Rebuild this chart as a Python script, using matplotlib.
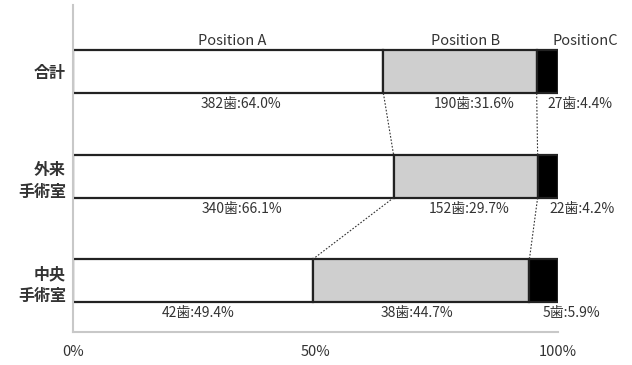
import numpy as np
import matplotlib
matplotlib.use("Agg")
import matplotlib.pyplot as plt

plt.rcParams["font.family"] = ["Noto Sans CJK JP", "DejaVu Sans"]

# Data
groups = ["合計", "外来\n手術室", "中央\n手術室"]
positions = ["Position A", "Position B", "PositionC"]
counts_a = [382, 340, 42]
counts_b = [190, 152, 38]
counts_c = [27, 22, 5]
pct_a = [64.0, 66.1, 49.4]
pct_b = [31.6, 29.7, 44.7]
pct_c = [4.4, 4.2, 5.9]

# where the value labels sit along each bar (percent)
label_x = [
    [34.6, 82.7, 104.5],
    [34.9, 81.6, 105.0],
    [25.8, 71.0, 102.7],
]
header_x = [32.8, 81.0, 105.6]

fig = plt.figure(figsize=(6.32, 3.65), dpi=100)
ax = fig.add_axes([73 / 632, 33 / 365, 485 / 632, 327 / 365])

y = np.arange(len(groups))
h = 0.41

a = np.array(pct_a)
b = np.array(pct_b)
c = 100 - a - b  # C fills the rest of each bar

ax.barh(y, a, height=h, color="white", edgecolor="#222222", linewidth=1.6)
ax.barh(y, b, left=a, height=h, color="#cfcfcf", edgecolor="#222222", linewidth=1.6)
ax.barh(y, c, left=a + b, height=h, color="black", edgecolor="#222222", linewidth=1.6)

# dotted lines joining the segment boundaries of neighbouring bars
bounds = np.column_stack([a, a + b])
for i in range(len(groups) - 1):
    for j in range(2):
        ax.plot([bounds[i, j], bounds[i + 1, j]], [y[i] + h / 2, y[i + 1] - h / 2],
                color="#333333", linestyle=(0, (1.5, 1.5)), linewidth=0.8)

# value labels under each bar
for i in range(len(groups)):
    texts = [f"{counts_a[i]}歯:{pct_a[i]:.1f}%",
             f"{counts_b[i]}歯:{pct_b[i]:.1f}%",
             f"{counts_c[i]}歯:{pct_c[i]:.1f}%"]
    for x, t in zip(label_x[i], texts):
        ax.text(x, y[i] + 0.31, t, ha="center", va="center", fontsize=10,
                color="#333333", clip_on=False)

for x, t in zip(header_x, positions):
    ax.text(x, -0.30, t, ha="center", va="center", fontsize=10.5,
            color="#333333", clip_on=False)

ax.set_xlim(0, 100)
ax.set_ylim(2.49, -0.64)
ax.set_xticks([0, 50, 100])
ax.set_xticklabels(["0%", "50%", "100%"], fontsize=10.5, color="#333333")
ax.set_yticks(y)
ax.set_yticklabels(groups, fontsize=11.5, fontweight="bold", color="#333333",
                   linespacing=1.45)
ax.tick_params(axis="both", length=0)
ax.tick_params(axis="x", pad=9)
ax.tick_params(axis="y", pad=5)

for s in ["top", "right"]:
    ax.spines[s].set_visible(False)
for s in ["left", "bottom"]:
    ax.spines[s].set_color("#c8c8c8")
    ax.spines[s].set_linewidth(1.5)

fig.savefig("out.png", dpi=100)
